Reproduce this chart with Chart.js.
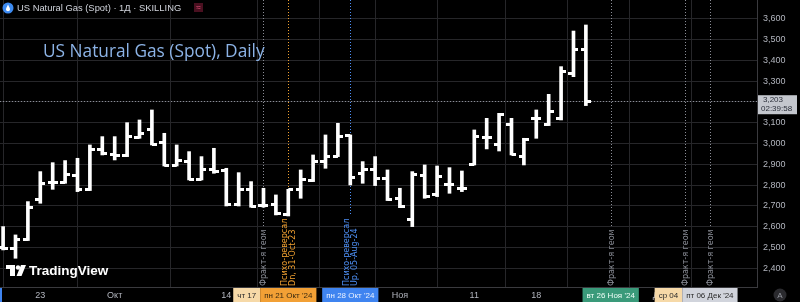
<!DOCTYPE html>
<html><head><meta charset="utf-8">
<script src="https://cdn.jsdelivr.net/npm/chart.js@4.4.1/dist/chart.umd.min.js"></script>
<style>html,body{margin:0;padding:0;background:#000;}canvas{display:block}</style>
</head><body>
<canvas id="c" width="800" height="302"></canvas>
<script>
// ---- data ----
const dates = ["2024-09-18","2024-09-19","2024-09-20","2024-09-23","2024-09-24","2024-09-25","2024-09-26","2024-09-27","2024-09-30",
"2024-10-01","2024-10-02","2024-10-03","2024-10-04","2024-10-07","2024-10-08","2024-10-09","2024-10-10","2024-10-11",
"2024-10-14","2024-10-15","2024-10-16","2024-10-17","2024-10-18","2024-10-21","2024-10-22","2024-10-23","2024-10-24","2024-10-25",
"2024-10-28","2024-10-29","2024-10-30","2024-10-31","2024-11-01","2024-11-04","2024-11-05","2024-11-06","2024-11-07","2024-11-08",
"2024-11-11","2024-11-12","2024-11-13","2024-11-14","2024-11-15","2024-11-18","2024-11-19","2024-11-20","2024-11-21","2024-11-22"];
const opens  = [2500,2497,2537,2732,2812,2812,2844,2777,2969,2945,2940,3030,3068,3004,2895,2913,2828,2873,2870,2705,2780,2700,2705,2657,
                2780,2820,2913,2937,3038,2857,2873,2833,2737,2633,2846,2753,2801,2785,2900,3028,2996,3089,2937,3118,3092,3121,3337,3449];
const highs  = [2601,2561,2721,2865,2908,2918,2929,2993,3033,3033,3100,3113,3161,3049,2993,2961,2937,2977,2881,2860,2817,2785,2753,2780,
                2873,2945,3041,3097,3041,2913,2937,2873,2785,2865,2897,2892,2884,2868,3065,3121,3145,3121,3025,3161,3236,3369,3540,3569];
const lows   = [2489,2449,2534,2713,2780,2809,2769,2774,2945,2921,2937,3025,2993,2892,2892,2825,2825,2857,2700,2700,2694,2694,2657,2652,
                2737,2817,2881,2937,2801,2809,2798,2726,2692,2601,2737,2745,2761,2769,2897,2974,2964,2945,2897,3025,3086,3113,3321,3182];
const closes = [2497,2540,2694,2809,2812,2849,2777,2969,2953,2940,3033,3049,2996,2895,2916,2828,2873,2865,2705,2780,2697,2700,2662,2780,
                2825,2913,2937,3033,2838,2873,2833,2729,2697,2852,2745,2841,2801,2782,3033,3028,3140,2948,3017,3118,3156,3348,3449,3203];
const lastPrice = 3203;
const lastTime = "02:39:58";
const yTicks = [2400,2500,2600,2700,2800,2900,3000,3100,3200,3300,3400,3500,3600];
const xTickIdx = [3,9,18,23,28,32,38,43,48,53];
const xTickLabels = ["23","Окт","14","21","28","Ноя","11","18","25","Дек"];
const markerIdx = [21,23,28,49,55,57];
const markerDates = ["чт 17","пн 21 Окт '24","пн 28 Окт '24","вт 26 Ноя '24","ср 04","пт 06 Дек '24"];
const markerTexts = [["Фракт-я геом"],["Психо-реверсал","Dn, 31-Oct-23"],["Психо-реверсал","Up, 05-Aug-24"],["Фракт-я геом"],["Фракт-я геом"],["Фракт-я геом"]];
const markerLineColors = ["#8a8d96","#f0a030","#4d8ff5","#8a8d96","#8a8d96","#8a8d96"];
const markerBoxColors = ["#f6d9a8","#f2a035","#3f84f0","#3a9a7a","#f6d9a8","#d1d4dc"];
const markerBoxText = ["#2a2a2a","#3a2a10","#e8f0ff","#f0fff8","#2a2a2a","#2a2a2a"];

// ---- tick glyphs for open/close ----
function tickCanvas(left){
  const c=document.createElement('canvas'); c.width=10; c.height=3;
  const g=c.getContext('2d'); g.fillStyle='#ffffff';
  if(left) g.fillRect(0,0,5,3); else g.fillRect(5,0,5,3);
  return c;
}
const leftTick = tickCanvas(true), rightTick = tickCanvas(false);

const FONT = "'Liberation Sans', 'DejaVu Sans', sans-serif";

const overlay = {
  id:'overlay',
  beforeDraw(chart){
    const ctx=chart.ctx; ctx.save(); ctx.fillStyle='#000'; ctx.fillRect(0,0,chart.width,chart.height); ctx.restore();
  },
  beforeDatasetsDraw(chart){
    const ctx=chart.ctx, xs=chart.scales.x, ys=chart.scales.y, a=chart.chartArea;
    ctx.save();
    const py=Math.round(ys.getPixelForValue(lastPrice))+0.5;
    ctx.strokeStyle='#8a8d96'; ctx.lineWidth=1; ctx.setLineDash([1,2]);
    ctx.beginPath(); ctx.moveTo(a.left,py); ctx.lineTo(a.right,py); ctx.stroke();
    ctx.font="8px 'DejaVu Sans', sans-serif";
    markerIdx.forEach((idx,k)=>{
      const x=Math.round(xs.getPixelForValue(idx))+0.5;
      const lines=markerTexts[k];
      let w=0; lines.forEach(l=>{w=Math.max(w,ctx.measureText(l).width);});
      const bottom=a.bottom-1;
      ctx.strokeStyle=markerLineColors[k]; ctx.setLineDash([1,2]);
      ctx.beginPath(); ctx.moveTo(x,a.top); ctx.lineTo(x,bottom-w-3); ctx.stroke();
      ctx.save(); ctx.translate(x,bottom); ctx.rotate(-Math.PI/2);
      ctx.fillStyle=markerLineColors[k]; ctx.textAlign='left'; ctx.textBaseline='middle';
      const lh=7.5;
      lines.forEach((l,j)=>{ctx.fillText(l,0,(j-(lines.length-1)/2)*lh+0.5);});
      ctx.restore();
    });
    ctx.restore();
  },
  afterDraw(chart){
    const ctx=chart.ctx, xs=chart.scales.x, ys=chart.scales.y, a=chart.chartArea;
    ctx.save();
    ctx.setLineDash([]);
    ctx.font="8px "+FONT;
    const boxes=markerIdx.map((idx,k)=>{
      const w=ctx.measureText(markerDates[k]).width+8;
      const cx=xs.getPixelForValue(idx);
      return {l:cx-w/2,w:w,k:k};
    });
    for(let i=boxes.length-2;i>=0;i--){
      const b=boxes[i], n=boxes[i+1];
      if(b.l+b.w>n.l) b.l=n.l-b.w;
    }
    ctx.fillStyle='#3f84f0'; ctx.fillRect(0,a.bottom+1,2,chart.height-a.bottom-1);
    boxes.forEach(b=>{
      ctx.fillStyle=markerBoxColors[b.k];
      ctx.fillRect(b.l,a.bottom+1,b.w,chart.height-a.bottom-1);
      ctx.fillStyle=markerBoxText[b.k]; ctx.textAlign='center'; ctx.textBaseline='middle';
      ctx.fillText(markerDates[b.k],b.l+b.w/2,a.bottom+8.5);
    });
    const py=ys.getPixelForValue(lastPrice);
    ctx.fillStyle='#c4c7ce'; ctx.fillRect(a.right+1,py-6,39,19);
    ctx.fillStyle='#2a2e39'; ctx.textAlign='left'; ctx.textBaseline='middle';
    ctx.font="8px "+FONT;
    ctx.fillText(lastPrice.toLocaleString('en-US'),a.right+6,py-1);
    ctx.fillText(lastTime,a.right+4,py+8);
    ctx.fillStyle='#2a2a2e'; ctx.beginPath(); ctx.arc(780,295,6.5,0,Math.PI*2); ctx.fill();
    ctx.fillStyle='#9598a1'; ctx.textAlign='center'; ctx.font="8px "+FONT; ctx.fillText('A',780,295.5);
    // header
    ctx.fillStyle='#3d8bf2'; ctx.beginPath(); ctx.arc(8,8,5.5,0,Math.PI*2); ctx.fill();
    ctx.fillStyle='#fff'; ctx.beginPath(); ctx.arc(8,9.2,2,0,Math.PI*2); ctx.fill();
    ctx.beginPath(); ctx.moveTo(6.2,8.6); ctx.lineTo(8,4.6); ctx.lineTo(9.8,8.6); ctx.fill();
    ctx.fillStyle='#d1d4dc'; ctx.textAlign='left'; ctx.textBaseline='middle';
    ctx.font="9.4px "+FONT;
    ctx.fillText("US Natural Gas (Spot) · 1Д · SKILLING",17,8);
    ctx.fillStyle='#4a1020'; ctx.fillRect(194,3,9,9);
    ctx.fillStyle='#e0507a'; ctx.font="8px "+FONT; ctx.textAlign='center'; ctx.fillText("≈",198.5,7.5);
    ctx.fillStyle='#8cb3e6'; ctx.textAlign='left'; ctx.textBaseline='alphabetic';
    ctx.font="17.3px 'Open Sans', sans-serif";
    ctx.fillText("US Natural Gas (Spot), Daily",43,57);
    // TradingView logo
    ctx.fillStyle='#ffffff';
    ctx.fillRect(6,265,9,4); ctx.fillRect(10,265,5,11);
    ctx.beginPath(); ctx.arc(18,267.5,2.2,0,Math.PI*2); ctx.fill();
    ctx.beginPath(); ctx.moveTo(21,265); ctx.lineTo(26,265); ctx.lineTo(21.5,276); ctx.lineTo(16.5,276); ctx.fill();
    ctx.font="bold 13.5px "+FONT; ctx.textBaseline='middle';
    ctx.fillText("TradingView",29,271);
    ctx.restore();
  }
};

const grid='#262629';
new Chart(document.getElementById('c'),{
  type:'bar',
  data:{datasets:[
    {type:'bar', data:highs.map((h,i)=>({x:i,y:[lows[i],h]})), backgroundColor:'#ffffff', borderWidth:0, barThickness:3, grouped:false, order:2},
    {type:'line', data:opens.map((o,i)=>({x:i,y:o})), showLine:false, pointStyle:leftTick, pointRadius:3, pointHoverRadius:3, pointBorderWidth:0, order:1},
    {type:'line', data:closes.map((c,i)=>({x:i,y:c})), showLine:false, pointStyle:rightTick, pointRadius:3, pointHoverRadius:3, pointBorderWidth:0, order:1}
  ]},
  options:{
    responsive:false, animation:false, devicePixelRatio:1,
    layout:{padding:0, autoPadding:false},
    events:[],
    plugins:{legend:{display:false},tooltip:{enabled:false}},
    scales:{
      x:{type:'linear', min:-0.25, max:60.8, offset:false,
        afterBuildTicks:s=>{s.ticks=xTickIdx.map(v=>({value:v}));},
        afterFit:s=>{s.height=15; s.paddingLeft=0; s.paddingRight=0; s.paddingTop=0; s.paddingBottom=0;},
        ticks:{autoSkip:false, maxRotation:0, color:'#b2b5be', font:{size:9, family:FONT}, padding:3,
          callback:(v)=>{const k=xTickIdx.indexOf(v);return k>=0?xTickLabels[k]:'';}},
        grid:{color:grid, drawTicks:false}, border:{color:'#3a3a3e'}},
      y:{position:'right', min:2311, max:3689,
        afterBuildTicks:s=>{s.ticks=yTicks.map(v=>({value:v}));},
        afterFit:s=>{s.width=43; s.paddingTop=0; s.paddingBottom=0; s.paddingLeft=0; s.paddingRight=0;},
        ticks:{color:'#b2b5be', font:{size:9, family:FONT}, padding:6,
          callback:(v)=>String(v).replace(/\B(?=(\d{3})+(?!\d))/g,',')},
        grid:{color:grid, drawTicks:false}, border:{color:'#3a3a3e'}}
    }
  },
  plugins:[overlay]
});
</script>
</body></html>
